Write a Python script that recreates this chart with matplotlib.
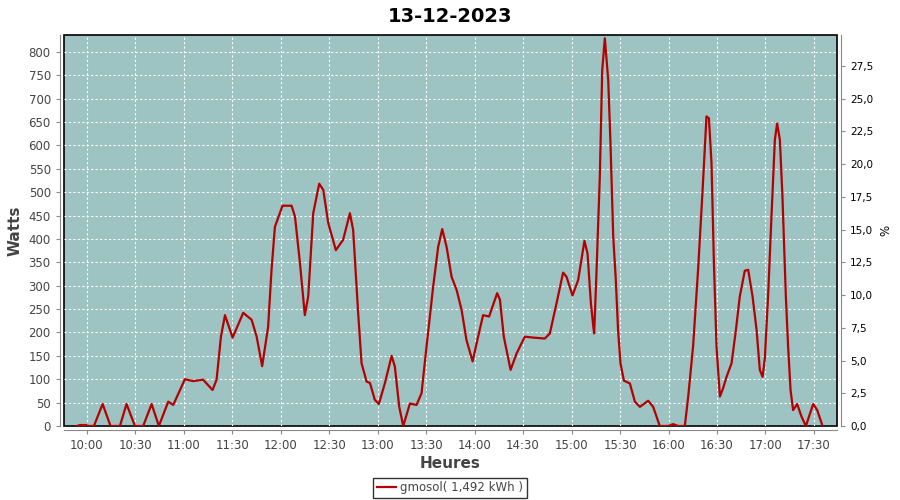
import matplotlib
matplotlib.use('Agg')
import matplotlib.pyplot as plt
from matplotlib.ticker import FuncFormatter, MultipleLocator
import pandas as pd

titre = '13-12-2023'
legende = 'gmosol( 1,492 kWh )'

heures = ["09:54:00", "09:56:00", "09:59:36", "10:01:24", "10:04:30", "10:09:54", "10:14:48",
          "10:20:36", "10:24:42", "10:29:54", "10:35:00", "10:40:12", "10:44:42", "10:50:30",
          "10:53:36", "11:00:48", "11:05:54", "11:12:06", "11:17:54", "11:20:24", "11:23:06",
          "11:25:36", "11:30:18", "11:36:54", "11:42:06", "11:45:12", "11:48:36", "11:52:18",
          "11:54:24", "11:56:30", "12:01:12", "12:06:48", "12:08:54", "12:12:00", "12:15:00",
          "12:17:06", "12:20:12", "12:23:54", "12:26:24", "12:29:30", "12:34:12", "12:38:42",
          "12:42:54", "12:44:54", "12:48:00", "12:50:06", "12:53:12", "12:55:18", "12:58:18",
          "13:00:48", "13:04:30", "13:08:42", "13:10:42", "13:13:24", "13:15:54", "13:20:00",
          "13:24:06", "13:27:12", "13:30:18", "13:34:24", "13:37:30", "13:40:00", "13:42:42",
          "13:45:48", "13:48:54", "13:52:00", "13:55:00", "13:58:48", "14:02:12", "14:05:18",
          "14:09:00", "14:14:00", "14:15:42", "14:18:06", "14:22:18", "14:26:00", "14:31:06",
          "14:36:18", "14:43:30", "14:46:36", "14:50:42", "14:54:48", "14:56:54", "15:00:36",
          "15:04:06", "15:08:00", "15:09:54", "15:12:00", "15:13:30", "15:14:00", "15:15:30",
          "15:17:30", "15:19:00", "15:20:36", "15:22:42", "15:24:06", "15:25:48", "15:27:24",
          "15:28:48", "15:30:18", "15:32:24", "15:36:06", "15:39:12", "15:42:18", "15:47:24",
          "15:50:30", "15:54:36", "15:59:48", "16:02:54", "16:06:00", "16:10:06", "16:12:12",
          "16:15:12", "16:18:18", "16:21:06", "16:23:30", "16:25:00", "16:26:36", "16:28:06",
          "16:29:42", "16:31:48", "16:33:48", "16:35:54", "16:39:00", "16:41:42", "16:44:06",
          "16:47:12", "16:49:18", "16:52:00", "16:54:30", "16:56:30", "16:58:12", "16:59:36",
          "17:01:36", "17:03:42", "17:05:48", "17:07:12", "17:08:54", "17:10:30", "17:12:36",
          "17:14:00", "17:15:30", "17:17:06", "17:19:36", "17:22:18", "17:25:00", "17:29:30",
          "17:32:00", "17:35:18"]

watts = [0, 2, 2, 0, 0, 47, 0,
         0, 47, 0, 0, 47, 0, 52,
         45, 100, 96, 99, 77, 99, 191,
         237, 189, 242, 227, 191, 128, 212,
         334, 426, 471, 471, 448, 348, 237,
         277, 455, 518, 505, 434, 376, 398,
         455, 419, 241, 134, 95, 92, 56,
         47, 91, 150, 127, 41, 0, 48,
         45, 70, 170, 298, 383, 421, 383,
         319, 291, 248, 184, 138, 191, 237,
         234, 284, 270, 191, 120, 155, 191,
         189, 187, 198, 262, 328, 319, 279,
         312, 396, 369, 262, 212, 198, 334,
         533, 761, 829, 740, 605, 405, 312,
         205, 134, 97, 91, 52, 41, 54,
         41, 0, 0, 4, 0, 0, 63,
         170, 334, 505, 662, 658, 562, 348,
         170, 63, 81, 105, 134, 205, 277,
         332, 334, 277, 205, 120, 105, 145,
         277, 448, 612, 647, 612, 490, 277,
         170, 77, 34, 47, 20, 0, 47,
         34, 0]

# minutes depuis minuit
t = pd.to_datetime(pd.Series(heures), format='%H:%M:%S')
minutes = (t.dt.hour * 60 + t.dt.minute + t.dt.second / 60).values

gris = '#444444'
fig = plt.figure(figsize=(9, 5), dpi=100)
ax = fig.add_axes([0.0711, 0.148, 0.859, 0.782])
ax.set_facecolor('#9dc3c3')
ax.patch.set_edgecolor('black')
ax.patch.set_linewidth(1.2)

ax.plot(minutes, watts, color='#b40000', linewidth=1.6, solid_joinstyle='round')

ax.set_xlim(9 * 60 + 46, 17 * 60 + 44.3)
ax.set_ylim(0, 836)
ax.xaxis.set_major_locator(MultipleLocator(30))
ax.xaxis.set_major_formatter(FuncFormatter(lambda v, p: '%d:%02d' % (v // 60, v % 60)))
ax.yaxis.set_major_locator(MultipleLocator(50))
ax.grid(True, color='white', linestyle=(0, (2, 2)), linewidth=0.8)

for s in ['top', 'right']:
    ax.spines[s].set_visible(False)
for s in ['left', 'bottom']:
    ax.spines[s].set_position(('outward', 3))
    ax.spines[s].set_color('#888888')
ax.tick_params(colors='#888888', labelcolor=gris, labelsize=8.5, length=3)

ax.set_title(titre, fontsize=14, fontweight='bold', pad=9)
ax.set_ylabel('Watts', fontsize=11, fontweight='bold', color=gris, labelpad=4)
ax.set_xlabel('Heures', fontsize=11, fontweight='bold', color=gris, labelpad=3)

ax2 = ax.twinx()
ax2.set_ylim(0, 29.87)
ax2.yaxis.set_major_locator(MultipleLocator(2.5))
ax2.yaxis.set_major_formatter(FuncFormatter(lambda v, p: ('%.1f' % v).replace('.', ',')))
for s in ['top', 'left', 'bottom']:
    ax2.spines[s].set_visible(False)
ax2.spines['right'].set_position(('outward', 3))
ax2.spines['right'].set_color('#888888')
ax2.tick_params(colors='#888888', labelcolor='black', labelsize=7.5, length=3)
ax2.set_ylabel('%', fontsize=8.5, labelpad=4)

leg = fig.legend([ax.lines[0]], [legende], loc='center', bbox_to_anchor=(0.5, 0.024),
                 fontsize=8.5, frameon=True, fancybox=False, handlelength=1.6,
                 borderpad=0.3, handletextpad=0.4, borderaxespad=0)
leg.get_frame().set_edgecolor('black')
leg.get_frame().set_linewidth(1)
for txt in leg.get_texts():
    txt.set_color(gris)

fig.savefig('out.png', dpi=100)
